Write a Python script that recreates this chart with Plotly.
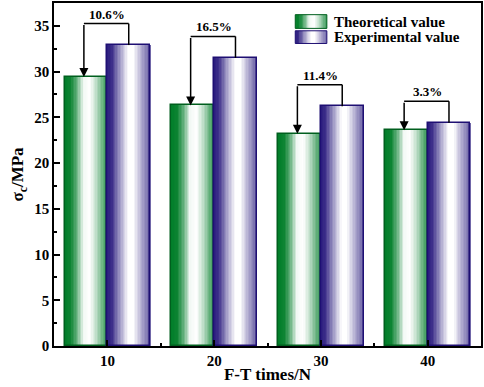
import plotly.graph_objects as go

# ---- data ----
categories = [10, 20, 30, 40]
theoretical = [29.4, 26.3, 23.2, 23.6]
experimental = [32.9, 31.5, 26.2, 24.4]
diff_labels = ["10.6%", "16.5%", "11.4%", "3.3%"]
series_names = ["Theoretical value", "Experimental value"]

FONT = "Liberation Serif"
GREEN = (0, 125, 40)
GREEN_EDGE = "rgb(0,95,30)"
NAVY = (40, 25, 125)
NAVY_EDGE = "rgb(30,15,115)"

green_stops = [(0, 1.0), (0.15, 0.95), (0.3, 0.6), (0.45, 0.05), (0.6, 0.0), (0.75, 0.25), (0.9, 0.6), (1.0, 0.8)]
navy_stops = [(0, 1.0), (0.12, 0.9), (0.3, 0.45), (0.5, 0.0), (0.62, 0.0), (0.8, 0.35), (0.95, 0.6), (1.0, 0.7)]


def intensity(stops, t):
    for (t0, v0), (t1, v1) in zip(stops[:-1], stops[1:]):
        if t0 <= t <= t1:
            return v0 + (v1 - v0) * (t - t0) / (t1 - t0)
    return stops[-1][1]


def color_at(base, stops, t):
    a = intensity(stops, t)
    r, g, b = (round(c * a + 255 * (1 - a)) for c in base)
    return f"rgb({r},{g},{b})"


BAR_W = 4.0
N = 30
fig = go.Figure()

for vals, base, stops, edge, off in [
    (theoretical, GREEN, green_stops, GREEN_EDGE, -BAR_W),
    (experimental, NAVY, navy_stops, NAVY_EDGE, 0.0),
]:
    w = BAR_W / N
    for i in range(N):
        t = (i + 0.5) / N
        fig.add_trace(go.Bar(
            x=categories, y=vals, width=w * 1.3, offset=off + i * w,
            marker=dict(color=color_at(base, stops, t), line=dict(width=0)),
            showlegend=False, hoverinfo="skip",
        ))
    fig.add_trace(go.Bar(
        x=categories, y=vals, width=BAR_W, offset=off,
        marker=dict(color="rgba(0,0,0,0)", line=dict(color=edge, width=1.5)),
        showlegend=False,
    ))

# ---- brackets with arrows and labels ----
shapes = []
annotations = []
for c, th, ex, lab in zip(categories, theoretical, experimental, diff_labels):
    top = max(th, ex) + 2.35
    xl = c - BAR_W / 2 - 0.2
    xr = c + BAR_W / 2
    shapes.append(dict(type="line", xref="x", yref="y", x0=xr, x1=xr, y0=ex, y1=top,
                       line=dict(color="black", width=1.5)))
    shapes.append(dict(type="line", xref="x", yref="y", x0=xl, x1=xr, y0=top, y1=top,
                       line=dict(color="black", width=1.5)))
    annotations.append(dict(x=xl, y=th, ax=xl, ay=top, xref="x", yref="y", axref="x", ayref="y",
                            text="", showarrow=True, arrowhead=2, arrowsize=1.2, arrowwidth=1.5,
                            arrowcolor="black", standoff=0))
    annotations.append(dict(x=c, y=top, xref="x", yref="y", text=lab, showarrow=False,
                            yanchor="bottom", yshift=0,
                            font=dict(family=FONT, size=13, color="black", weight="bold")))

# ---- custom legend with gradient patches ----
leg_x0, leg_x1 = 0.565, 0.639
leg_rows = [(0.966, 0.926), (0.919, 0.882)]
for (y1, y0), base, stops, edge, name in zip(leg_rows, [GREEN, NAVY], [green_stops, navy_stops],
                                              [GREEN_EDGE, NAVY_EDGE], series_names):
    M = 24
    dw = (leg_x1 - leg_x0) / M
    for i in range(M):
        shapes.append(dict(type="rect", xref="paper", yref="paper",
                           x0=leg_x0 + i * dw, x1=leg_x0 + (i + 1.3) * dw if i < M - 1 else leg_x1,
                           y0=y0, y1=y1, line=dict(width=0),
                           fillcolor=color_at(base, stops, (i + 0.5) / M)))
    shapes.append(dict(type="rect", xref="paper", yref="paper", x0=leg_x0, x1=leg_x1, y0=y0, y1=y1,
                       line=dict(color=edge, width=1), fillcolor="rgba(0,0,0,0)"))
    annotations.append(dict(x=0.651, y=(y0 + y1) / 2, xref="paper", yref="paper", text=name,
                            showarrow=False, xanchor="left", yanchor="middle",
                            font=dict(family=FONT, size=15, color="black", weight="bold")))

axis_common = dict(
    showline=True, linecolor="black", linewidth=1.5, mirror=True,
    ticks="inside", ticklen=6, tickwidth=1.5, tickcolor="black",
    showgrid=False, zeroline=False, automargin=False,
    tickfont=dict(family=FONT, size=15, color="black", weight="bold"),
)

fig.update_layout(
    width=484, height=387,
    margin=dict(l=54, r=3, t=3, b=41, autoexpand=False),
    paper_bgcolor="white", plot_bgcolor="white",
    barmode="overlay", bargap=0,
    showlegend=False,
    shapes=shapes, annotations=annotations,
    xaxis=dict(range=[5, 45], tick0=0, dtick=10,
               minor=dict(ticks="inside", dtick=5, ticklen=3, tickwidth=1.5, tickcolor="black"),
               title=dict(text="F-T times/N", standoff=0,
                          font=dict(family=FONT, size=17, color="black", weight="bold")),
               **axis_common),
    yaxis=dict(range=[0, 37.5], tick0=0, dtick=5,
               minor=dict(ticks="inside", dtick=2.5, ticklen=3, tickwidth=1.5, tickcolor="black"),
               title=dict(text="σ<sub>c</sub>/MPa", standoff=6,
                          font=dict(family=FONT, size=17, color="black", weight="bold")),
               **axis_common),
)

fig.write_html("out.html", config={"displayModeBar": False},
               post_script="document.body.style.margin='0';document.body.style.padding='0';")
